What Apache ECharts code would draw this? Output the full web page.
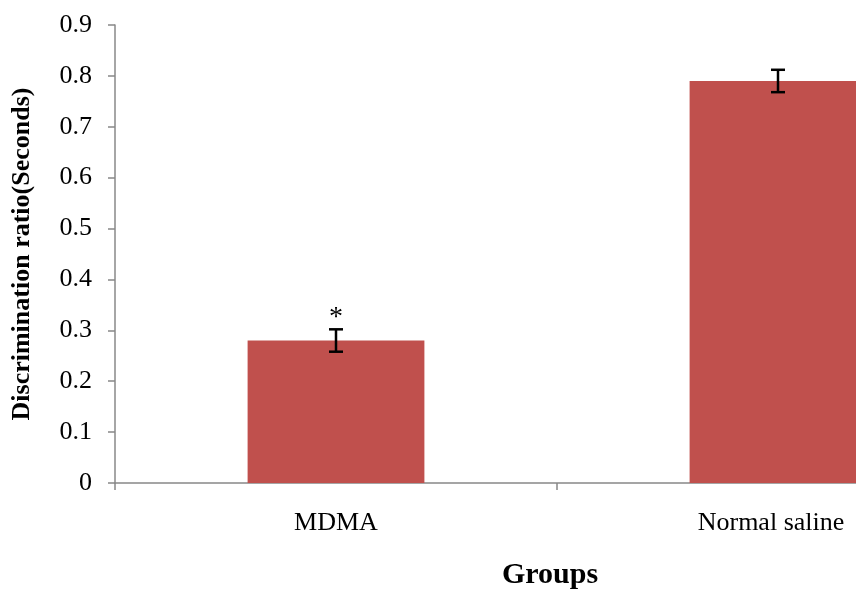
<!DOCTYPE html>
<html>
<head>
<meta charset="utf-8">
<script src="https://cdn.jsdelivr.net/npm/echarts@6/dist/echarts.min.js"></script>
<style>html,body{margin:0;padding:0;background:#fff;}#c{width:856px;height:592px;}</style>
</head>
<body>
<div id="c"></div>
<script>
const categories = ['MDMA', 'Normal saline'];
const means = [0.28, 0.79];
const errors = [0.022, 0.022];
const marks = ['*', ''];
const yMin = 0, yMax = 0.9, yStep = 0.1;

const chart = echarts.init(document.getElementById('c'));
const font = '"Liberation Serif", "Times New Roman", serif';
chart.setOption({
  animation: false,
  backgroundColor: '#fff',
  grid: { left: 115, width: 884, top: 25, bottom: 109, outerBoundsMode: 'none', containLabel: false },
  xAxis: {
    type: 'category',
    data: categories,
    name: 'Groups',
    nameLocation: 'middle',
    nameGap: 77,
    nameTextStyle: { fontFamily: font, fontSize: 30, fontWeight: 'bold', color: '#000', padding: [0, 14, 0, 0] },
    axisLine: { lineStyle: { color: '#888', width: 1.5 } },
    axisTick: { show: true, length: 7, lineStyle: { color: '#888', width: 1.5 } },
    axisLabel: {
      fontFamily: font, fontSize: 26, color: '#000', margin: 27,
      formatter: function (v, i) { return i === 1 ? '{s|' + v + '}' : v; },
      rich: { s: { fontFamily: font, fontSize: 26, color: '#000', padding: [0, 14, 0, 0] } }
    }
  },
  yAxis: {
    type: 'value',
    min: yMin, max: yMax, interval: yStep,
    name: 'Discrimination ratio(Seconds)',
    nameLocation: 'middle',
    nameGap: 80,
    nameTextStyle: { fontFamily: font, fontSize: 26, fontWeight: 'bold', color: '#000' },
    axisLine: { show: true, lineStyle: { color: '#888', width: 1.5 } },
    axisTick: { show: true, length: 7, lineStyle: { color: '#888', width: 1.5 } },
    splitLine: { show: false },
    axisLabel: { fontFamily: font, fontSize: 26, color: '#000', margin: 23 }
  },
  series: [
    {
      type: 'bar',
      data: means,
      barWidth: '40%',
      itemStyle: { color: '#C0504D' }
    },
    {
      type: 'custom',
      data: means.map((m, i) => [i, m, errors[i], marks[i]]),
      renderItem: function (params, api) {
        const i = api.value(0);
        const m = api.value(1);
        const e = api.value(2);
        const top = api.coord([i, m + e]);
        const bot = api.coord([i, m - e]);
        const hw = 7;
        const st = { stroke: '#000', lineWidth: 2.5 };
        const children = [
          { type: 'line', shape: { x1: top[0], y1: top[1], x2: bot[0], y2: bot[1] }, style: st },
          { type: 'line', shape: { x1: top[0] - hw, y1: top[1], x2: top[0] + hw, y2: top[1] }, style: st },
          { type: 'line', shape: { x1: bot[0] - hw, y1: bot[1], x2: bot[0] + hw, y2: bot[1] }, style: st }
        ];
        const mk = marks[params.dataIndex];
        if (mk) {
          children.push({ type: 'text', style: { text: mk, x: top[0], y: top[1] + 2, align: 'center', verticalAlign: 'bottom', font: '28px ' + font, fill: '#000' } });
        }
        return { type: 'group', children: children };
      },
      z: 10
    }
  ]
});
</script>
</body>
</html>
